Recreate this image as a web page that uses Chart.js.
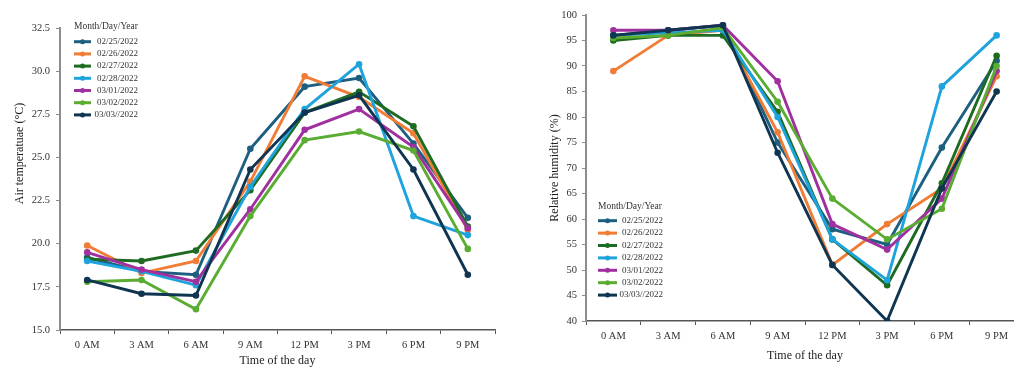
<!DOCTYPE html>
<html>
<head>
<meta charset="utf-8">
<script src="https://cdn.jsdelivr.net/npm/chart.js@4/dist/chart.umd.min.js"></script>
<style>
    body { margin: 0; background: #fff; overflow: hidden; width: 1014px; height: 367px; position: relative; }
    canvas { position: absolute; top: 0; }
    #tempChart { left: 0; }
    #humChart { left: 520px; }
</style>
</head>
<body>
<canvas id="tempChart" width="510" height="367"></canvas>
<canvas id="humChart" width="520" height="367"></canvas>
<script>
const hours = ['0 AM', '3 AM', '6 AM', '9 AM', '12 PM', '3 PM', '6 PM', '9 PM'];
const dates = ['02/25/2022', '02/26/2022', '02/27/2022', '02/28/2022', '03/01/2022', '03/02/2022', '03/03//2022'];
const lineColors = ['#1d5f80', '#f07c36', '#1e6b22', '#1ea3dc', '#a0309f', '#5aad32', '#0f3550'];

// air temperature (°C)
const temp0225 = [19.2, 18.4, 18.2, 25.5, 29.1, 29.6, 25.8, 21.5];
const temp0226 = [19.9, 18.3, 19.0, 23.6, 29.7, 28.5, 26.4, 20.8];
const temp0227 = [19.1, 19.0, 19.6, 23.1, 27.6, 28.8, 26.8, 21.0];
const temp0228 = [19.0, 18.4, 17.6, 23.3, 27.8, 30.4, 21.6, 20.5];
const temp0301 = [19.5, 18.5, 17.8, 22.0, 26.6, 27.8, 25.6, 20.9];
const temp0302 = [17.8, 17.9, 16.2, 21.6, 26.0, 26.5, 25.4, 19.7];
const temp0303 = [17.9, 17.1, 17.0, 24.3, 27.6, 28.6, 24.3, 18.2];

// relative humidity (%)
const hum0225 = [96, 97, 98, 75, 58, 55, 74, 91];
const hum0226 = [89, 96, 97, 77, 51, 59, 66, 88];
const hum0227 = [95, 96, 96, 81, 56, 47, 67, 92];
const hum0228 = [96, 96.5, 97, 80, 56, 48, 86, 96];
const hum0301 = [97, 97, 98, 87, 59, 54, 64, 89];
const hum0302 = [95.5, 96, 97.5, 83, 64, 56, 62, 90];
const hum0303 = [96, 97, 98, 73, 51, 40, 66, 85];

const tempSeries = [temp0225, temp0226, temp0227, temp0228, temp0301, temp0302, temp0303];
const humSeries = [hum0225, hum0226, hum0227, hum0228, hum0301, hum0302, hum0303];

const serif = '"Liberation Serif", "Times New Roman", serif';

// legend drawn inside the plot, like the original figure
const boxLegend = {
    id: 'boxLegend',
    afterDraw(chart, args, opts) {
        const ctx = chart.ctx;
        const x = chart.chartArea.left + opts.dx;
        const y = chart.chartArea.top + opts.dy;
        ctx.save();
        ctx.textBaseline = 'middle';
        ctx.fillStyle = '#333';
        ctx.font = '9.5px ' + serif;
        ctx.textAlign = 'left';
        ctx.fillText(opts.title, x, y);
        ctx.font = '9px ' + serif;
        chart.data.datasets.forEach((ds, i) => {
            const yy = y + opts.firstGap + i * opts.rowGap;
            ctx.strokeStyle = ds.borderColor;
            ctx.lineWidth = 3;
            ctx.beginPath();
            ctx.moveTo(x, yy);
            ctx.lineTo(x + opts.lineLen, yy);
            ctx.stroke();
            ctx.fillStyle = ds.borderColor;
            ctx.beginPath();
            ctx.arc(x + opts.lineLen / 2, yy, 2.5, 0, Math.PI * 2);
            ctx.fill();
            ctx.fillStyle = '#333';
            ctx.textAlign = 'right';
            ctx.fillText(ds.label, x + opts.textRight, yy);
        });
        ctx.restore();
    }
};

function buildDatasets(series) {
    return series.map((values, i) => ({
        label: dates[i],
        data: values,
        borderColor: lineColors[i],
        backgroundColor: lineColors[i],
        borderWidth: 2.9,
        pointRadius: 3.3,
        pointBorderWidth: 0,
        tension: 0,
        order: series.length - i
    }));
}

function makeChart(id, series, cfg) {
    return new Chart(document.getElementById(id), {
        type: 'line',
        data: { labels: hours, datasets: buildDatasets(series) },
        plugins: [boxLegend],
        options: {
            responsive: false,
            animation: false,
            layout: { padding: cfg.padding },
            plugins: {
                legend: { display: false },
                tooltip: { enabled: false },
                boxLegend: cfg.legend
            },
            scales: {
                x: {
                    type: 'category',
                    offset: true,
                    grid: { offset: true, drawOnChartArea: false, tickLength: 4, tickColor: '#555', tickWidth: 1 },
                    border: { color: '#555', width: 1.5 },
                    ticks: { color: '#333', font: { family: serif, size: 10.5 }, padding: 5, maxRotation: 0, autoSkip: false },
                    title: {
                        display: true, text: 'Time of the day', color: '#222',
                        font: { family: serif, size: 12, lineHeight: 1 },
                        padding: { top: 0, bottom: cfg.xTitleBottom }
                    },
                    afterFit: (scale) => { scale.height = cfg.xHeight; }
                },
                y: {
                    min: cfg.min, max: cfg.max,
                    grid: { drawOnChartArea: false, tickLength: 4, tickColor: '#8c8c8c', tickWidth: 1 },
                    border: { color: '#8c8c8c', width: 2 },
                    ticks: {
                        stepSize: cfg.step, autoSkip: false, color: '#333',
                        font: { family: serif, size: 10.5 }, padding: cfg.tickPad,
                        callback: cfg.tickFormat
                    },
                    title: {
                        display: true, text: cfg.yTitle, color: '#222',
                        font: { family: serif, size: 12, lineHeight: 1.2 },
                        padding: { top: cfg.yTitlePad, bottom: 0 }
                    },
                    afterFit: (scale) => { scale.width = cfg.yWidth; }
                }
            }
        }
    });
}

makeChart('tempChart', tempSeries, {
    padding: { top: 28, right: 15, left: 0, bottom: 0 },
    xHeight: 37, yWidth: 60, xTitleBottom: 0,
    min: 15, max: 32.5, step: 2.5, tickPad: 6,
    tickFormat: (v) => v.toFixed(1),
    yTitle: '\u00a0'.repeat(17) + 'Air temperatuae (°C)', yTitlePad: 12.5,
    legend: { title: 'Month/Day/Year', dx: 14, dy: -2, firstGap: 15.7, rowGap: 12.2, lineLen: 17, textRight: 64 }
});

makeChart('humChart', humSeries, {
    padding: { top: 15, right: 16, left: 0, bottom: 0 },
    xHeight: 46, yWidth: 66, xTitleBottom: 5.5,
    min: 40, max: 100, step: 5, tickPad: 5,
    tickFormat: (v) => v,
    yTitle: 'Relative humidity (%)', yTitlePad: 28,
    legend: { title: 'Month/Day/Year', dx: 12, dy: 191, firstGap: 14.7, rowGap: 12.4, lineLen: 19, textRight: 65 }
});
</script>
</body>
</html>
